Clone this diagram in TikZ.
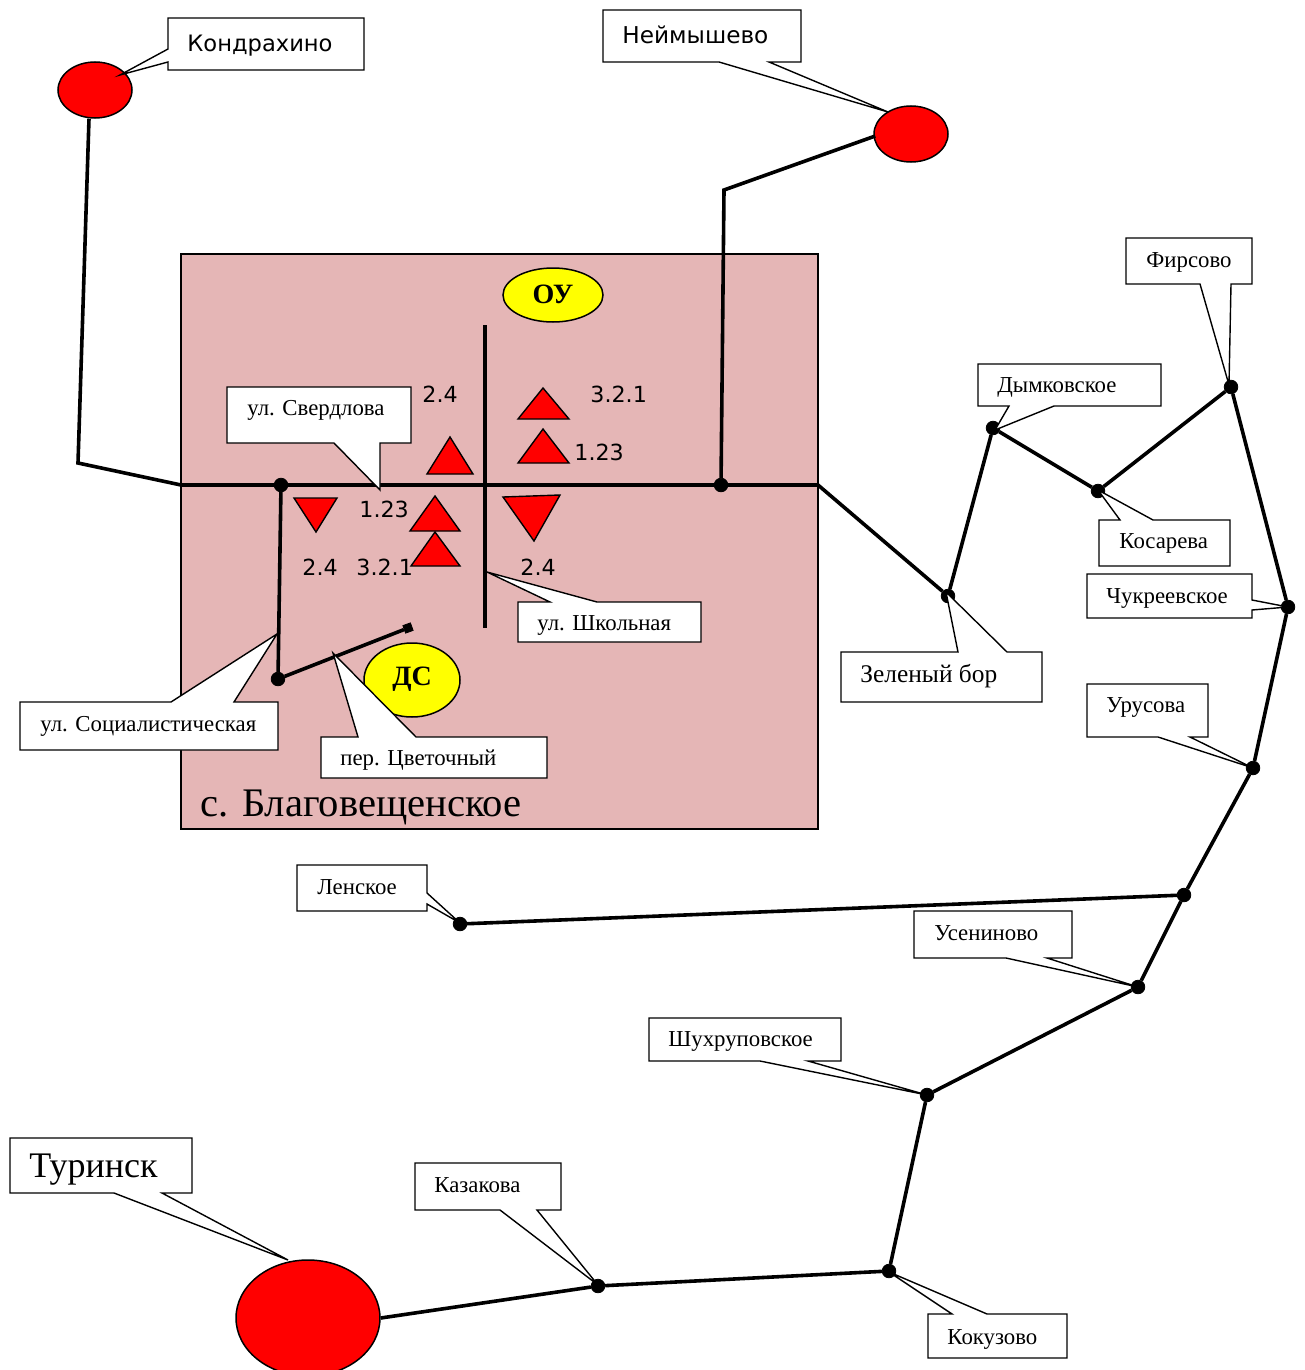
\documentclass[tikz,border=0pt]{standalone}
\usepackage{fontspec}
\setmainfont{Liberation Serif}
\newfontfamily\sansf{DejaVu Sans}
\usetikzlibrary{shapes.geometric}
\definecolor{pinkbg}{RGB}{229,182,182}
\definecolor{rd}{RGB}{255,0,0}
\definecolor{yl}{RGB}{255,255,0}
\tikzset{
  x=0.5pt,y=-0.5pt,
  road/.style={line width=1.8pt,black},
  mainroad/.style={line width=2.3pt,black},
  callout/.style={draw=black,fill=white,line width=0.7pt,line join=miter},
  lbl/.style={anchor=west,inner sep=0pt,font=\fontsize{11.4}{13}\selectfont},
  slbl/.style={anchor=west,inner sep=0pt,font=\sansf\fontsize{11.3}{13}\selectfont},
  nlbl/.style={anchor=west,inner sep=0pt,font=\sansf\fontsize{11.1}{13}\selectfont},
  big/.style={anchor=west,inner sep=0pt,font=\fontsize{18}{20}\selectfont},
  dot/.style={circle,fill=black,draw=black,inner sep=0pt,minimum size=6.8pt},
  town/.style={ellipse,draw=black,fill=rd,line width=0.75pt,inner sep=0pt},
  tri/.style={draw=black,fill=rd,line width=0.7pt,line join=miter},
  yell/.style={ellipse,draw=black,fill=yl,line width=0.75pt,inner sep=0pt,font=\bfseries\fontsize{14}{16}\selectfont},
}
\begin{document}
\begin{tikzpicture}
\useasboundingbox (0,0) rectangle (1305,1370);
% village
\fill[white] (0,0) rectangle (1305,1370);
\draw[fill=pinkbg,line width=0.6pt] (181,254) rectangle (818,829);
% named points
\node[town,minimum width=37pt,minimum height=28pt] (kond) at (95,90) {};
\node[town,minimum width=37pt,minimum height=28pt] (neim) at (911,134) {};
\node[town,minimum width=72pt,minimum height=58pt] (tur) at (308,1318) {};
\node[dot] (a1) at (281,485) {};
\node[dot] (a2) at (721,485) {};
\node[dot] (a3) at (278,679) {};
\node[dot] (zel) at (948,596) {};
\node[dot] (dym) at (993,428) {};
\node[dot] (kos) at (1098,491) {};
\node[dot] (fir) at (1231,387) {};
\node[dot] (chu) at (1288,607) {};
\node[dot] (uru) at (1253,768) {};
\node[dot] (len) at (1184,895) {};
\node[dot] (lene) at (460,924) {};
\node[dot] (use) at (1138,987) {};
\node[dot] (shu) at (927,1095) {};
\node[dot] (kok) at (889,1271) {};
\node[dot] (kaz) at (598,1286) {};
\coordinate (w) at (181,485);
\coordinate (e) at (818,485);
\coordinate (kb) at (78,463);
\coordinate (nb) at (724,190);
\coordinate (sn) at (485,325);
\coordinate (ss) at (485,628);
\node[draw=black,fill=black,rotate=20,inner sep=0pt,minimum size=4pt] (cv) at (408,628) {};
% roads
\draw[road] (kond.south) ++(-6,0) coordinate (k0) -- (kb) -- (w);
\draw[mainroad] (w) -- (e);
\draw[road] (neim.west) ++(2,2) coordinate (n0) -- (nb) -- (a2);
\draw[road] (e) -- (zel) -- (dym) -- (kos) -- (fir) -- (chu) -- (uru) -- (len) -- (use) -- (shu) -- (kok) -- (kaz) -- (tur.east);
\draw[road] (len) -- (lene);
\draw[road] (a1) -- (a3) -- (cv);
\draw[road] (sn) -- (ss);
% yellow
\node[yell,minimum width=50pt,minimum height=27pt] (ou) at (553,295) {\raisebox{1pt}{ОУ}};
\node[yell,minimum width=48pt,minimum height=37pt] (ds) at (412,680) {\raisebox{4pt}{ДС}};
% triangles
\draw[tri] (518,419) -- (543,388) -- (569,419) -- cycle;
\draw[tri] (518,463) -- (543,429) -- (569,463) -- cycle;
\draw[tri] (427,474) -- (450,437) -- (473,474) -- cycle;
\draw[tri] (294,498) -- (337,498) -- (316,532) -- cycle;
\draw[tri] (410,531) -- (435,496) -- (460,531) -- cycle;
\draw[tri] (411,566) -- (435,532) -- (460,566) -- cycle;
\draw[tri] (503,497) -- (560,495) -- (534,541) -- cycle;
% sans numbers
\node[nlbl] (t1) at (422,394) {2.4};
\node[nlbl] (t2) at (590,394) {3.2.1};
\node[nlbl] (t3) at (574,452) {1.23};
\node[nlbl] (t4) at (359,509) {1.23};
\node[nlbl] (t5) at (302,567) {2.4};
\node[nlbl] (t6) at (356,567) {3.2.1};
\node[nlbl] (t7) at (520,567) {2.4};
% callouts
\draw[callout] (168,18) -- (364,18) -- (364,70) -- (168,70) -- (168,62) -- (120,75) -- (168,49) -- cycle;
\node[slbl] (lk) at (187,46) {Кондрахино};
\draw[callout] (603,10) -- (801,10) -- (801,62) -- (769,62) -- (888,112) -- (719,62) -- (603,62) -- cycle;
\node[slbl,font=\sansf\fontsize{11.6}{13}\selectfont] (ln) at (622,35) {Неймышево};
\draw[callout] (227,387) -- (411,387) -- (411,443) -- (380,443) -- (380,490) -- (334,443) -- (227,443) -- cycle;
\node[lbl] (ls) at (247,410) {ул. Свердлова};
\draw[callout] (518,602) -- (550,602) -- (487,572) -- (597,602) -- (701,602) -- (701,642) -- (518,642) -- cycle;
\node[lbl] (lsh) at (537,625) {ул. Школьная};
\draw[callout] (20,702) -- (171,702) -- (277,634) -- (234,702) -- (278,702) -- (278,750) -- (20,750) -- cycle;
\node[lbl] (lso) at (40,726) {ул. Социалистическая};
\draw[callout] (321,737) -- (358,737) -- (333,653) -- (416,737) -- (547,737) -- (547,778) -- (321,778) -- cycle;
\node[lbl] (lc) at (340,760) {пер. Цветочный};
\node[big,font=\fontsize{20.3}{22}\selectfont] (lb) at (200,807) {с. Благовещенское};
\draw[callout] (1126,238) -- (1252,238) -- (1252,284) -- (1231,284) -- (1229,385) -- (1200,284) -- (1126,284) -- cycle;
\node[lbl] (lf) at (1146,262) {Фирсово};
\draw[callout] (978,364) -- (1161,364) -- (1161,406) -- (1054,406) -- (995,430) -- (1009,406) -- (978,406) -- cycle;
\node[lbl] (ld) at (997,387) {Дымковское};
\draw[callout] (1099,520) -- (1120,520) -- (1098,490) -- (1153,520) -- (1230,520) -- (1230,566) -- (1099,566) -- cycle;
\node[lbl] (lko) at (1119,543) {Косарева};
\draw[callout] (1087,574) -- (1252,574) -- (1252,600) -- (1288,607) -- (1252,610) -- (1252,618) -- (1087,618) -- cycle;
\node[lbl] (lch) at (1106,598) {Чукреевское};
\draw[callout] (841,652) -- (958,652) -- (946,592) -- (1007,652) -- (1042,652) -- (1042,702) -- (841,702) -- cycle;
\node[lbl,font=\fontsize{12.7}{14}\selectfont] (lz) at (860,676) {Зеленый бор};
\draw[callout] (1087,684) -- (1208,684) -- (1208,737) -- (1190,737) -- (1253,768) -- (1158,737) -- (1087,737) -- cycle;
\node[lbl] (lu) at (1106,707) {Урусова};
\draw[callout] (297,865) -- (427,865) -- (427,893) -- (460,923) -- (427,904) -- (427,911) -- (297,911) -- cycle;
\node[lbl] (lle) at (317,887) {Ленское};
\draw[callout] (914,911) -- (1072,911) -- (1072,958) -- (1047,958) -- (1138,987) -- (1006,958) -- (914,958) -- cycle;
\node[lbl] (lus) at (934,933) {Усениново};
\draw[callout] (649,1018) -- (841,1018) -- (841,1061) -- (808,1061) -- (927,1095) -- (760,1061) -- (649,1061) -- cycle;
\node[lbl] (lsh2) at (668,1041) {Шухруповское};
\draw[callout] (10,1138) -- (192,1138) -- (192,1193) -- (162,1193) -- (288,1260) -- (114,1193) -- (10,1193) -- cycle;
\node[big] (lt) at (29,1170) {Туринск};
\draw[callout] (415,1163) -- (561,1163) -- (561,1210) -- (537,1210) -- (598,1285) -- (500,1210) -- (415,1210) -- cycle;
\node[lbl] (lka) at (434,1185) {Казакова};
\draw[callout] (928,1314) -- (952,1314) -- (889,1272) -- (987,1314) -- (1067,1314) -- (1067,1358) -- (928,1358) -- cycle;
\node[lbl] (lkk) at (947,1339) {Кокузово};
\end{tikzpicture}
\end{document}
